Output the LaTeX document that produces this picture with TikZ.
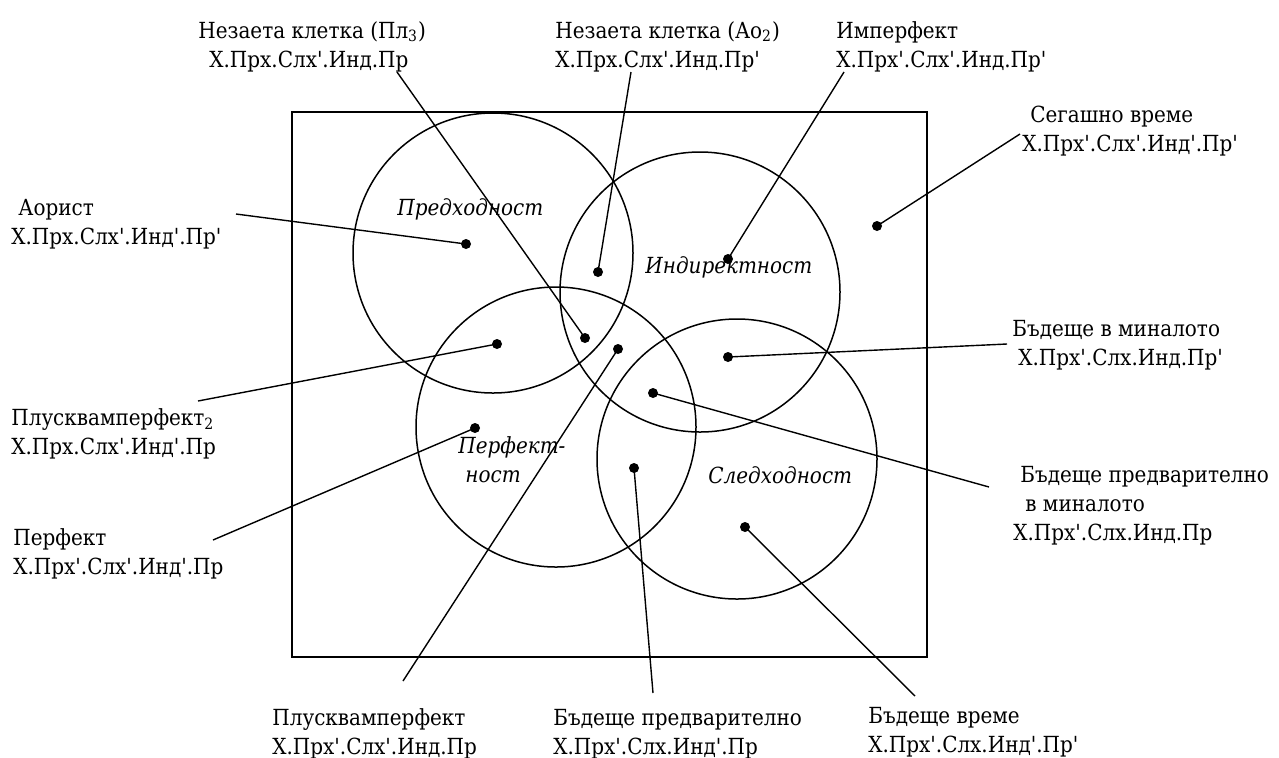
\documentclass[tikz,border=0pt]{standalone}
\usepackage{fontspec}
\setmainfont{DejaVu Serif Condensed}[Ligatures=TeXOff]
\newcommand{\lblfont}{\rmfamily\fontsize{11.1pt}{14.5pt}\selectfont}
\newcommand{\two}[2]{\begin{tabular}[t]{@{}l@{}}#1\\#2\end{tabular}}
\newcommand{\three}[3]{\begin{tabular}[t]{@{}l@{}}#1\\#2\\#3\end{tabular}}
\begin{document}
\begin{tikzpicture}[x=0.5pt,y=-0.5pt,
  lbl/.style={anchor=base west, inner sep=0pt, font=\lblfont},
  ital/.style={anchor=base west, inner sep=0pt, font=\lblfont\itshape},
  dotn/.style={circle, fill=black, inner sep=0pt, minimum size=5pt},
  conn/.style={line width=0.7pt},
  circ/.style={line width=0.75pt},
  frame/.style={line width=0.9pt}]
\useasboundingbox (0,0) rectangle (1279,757);
% frame and circles
\draw[frame] (292,112) rectangle (927,657);
\draw[circ] (493,253) circle[radius=70pt];
\draw[circ] (700,292) circle[radius=70pt];
\draw[circ] (556,427) circle[radius=70pt];
\draw[circ] (737,459) circle[radius=70pt];
% circle labels
\node[ital] (tPred) at (397,215) {Предходност};
\node[ital] (tInd) at (645,273) {Индиректност};
\node[ital] (tPerf) at (458,453) {\two{Перфект-}{\hspace{3.5pt}ност}};
\node[ital] (tSled) at (708,483) {Следходност};
% dots
\node[dotn] (dAor) at (466,244) {};
\node[dotn] (dAo2) at (598,272) {};
\node[dotn] (dImp) at (728,259) {};
\node[dotn] (dSeg) at (877,226) {};
\node[dotn] (dPl3) at (585,338) {};
\node[dotn] (dPlq2) at (497,344) {};
\node[dotn] (dPlq) at (618,349) {};
\node[dotn] (dBvM) at (728,357) {};
\node[dotn] (dBPvM) at (653,393) {};
\node[dotn] (dPerf) at (475,428) {};
\node[dotn] (dBP) at (634,468) {};
\node[dotn] (dBV) at (745,527) {};
% labels
\node[lbl] (lPl3) at (198,38) {\two{Незаета клетка (Пл\textsubscript{3})}{\hspace{5.5pt}Х.Прх.Слх'.Инд.Пр}};
\node[lbl] (lAo2) at (555,38) {\two{Незаета клетка (Ао\textsubscript{2})}{Х.Прх.Слх'.Инд.Пр'}};
\node[lbl] (lImp) at (836,38) {\two{Имперфект}{Х.Прх'.Слх'.Инд.Пр'}};
\node[lbl] (lSeg) at (1022,122) {\two{\hspace{4pt}Сегашно време}{Х.Прх'.Слх'.Инд'.Пр'}};
\node[lbl] (lAor) at (11,215) {\two{\hspace{3.5pt}Аорист}{Х.Прх.Слх'.Инд'.Пр'}};
\node[lbl] (lPlq2) at (11,425) {\two{Плусквамперфект\textsubscript{2}}{Х.Прх.Слх'.Инд'.Пр}};
\node[lbl] (lPerf) at (13,545) {\two{Перфект}{Х.Прх'.Слх'.Инд'.Пр}};
\node[lbl] (lBvM) at (1012,336) {\two{Бъдеще в миналото}{\hspace{3pt}Х.Прх'.Слх.Инд.Пр'}};
\node[lbl] (lBPvM) at (1013,482) {\three{\hspace{3.5pt}Бъдеще предварително}{\hspace{6pt}в миналото}{Х.Прх'.Слх.Инд.Пр}};
\node[lbl] (lPlq) at (272,725) {\two{Плусквамперфект}{Х.Прх'.Слх'.Инд.Пр}};
\node[lbl] (lBP) at (553,725) {\two{Бъдеще предварително}{Х.Прх'.Слх.Инд'.Пр}};
\node[lbl] (lBV) at (868,723) {\two{Бъдеще време}{Х.Прх'.Слх.Инд'.Пр'}};
% connector free ends
\coordinate (ePl3) at (397,72);
\coordinate (eAo2) at (631,72);
\coordinate (eImp) at (844,72);
\coordinate (eSeg) at (1020,134);
\coordinate (eAor) at (236,214);
\coordinate (ePlq2) at (198,401);
\coordinate (ePerf) at (213,540);
\coordinate (eBvM) at (1007,344);
\coordinate (eBPvM) at (989,487);
\coordinate (ePlq) at (403,681);
\coordinate (eBP) at (653,693);
\coordinate (eBV) at (915,696);
% connectors
\draw[conn] (ePl3) -- (dPl3.center);
\draw[conn] (eAo2) -- (dAo2.center);
\draw[conn] (eImp) -- (dImp.center);
\draw[conn] (eSeg) -- (dSeg.center);
\draw[conn] (eAor) -- (dAor.center);
\draw[conn] (ePlq2) -- (dPlq2.center);
\draw[conn] (ePerf) -- (dPerf.center);
\draw[conn] (eBvM) -- (dBvM.center);
\draw[conn] (eBPvM) -- (dBPvM.center);
\draw[conn] (ePlq) -- (dPlq.center);
\draw[conn] (eBP) -- (dBP.center);
\draw[conn] (eBV) -- (dBV.center);
\end{tikzpicture}
\end{document}
